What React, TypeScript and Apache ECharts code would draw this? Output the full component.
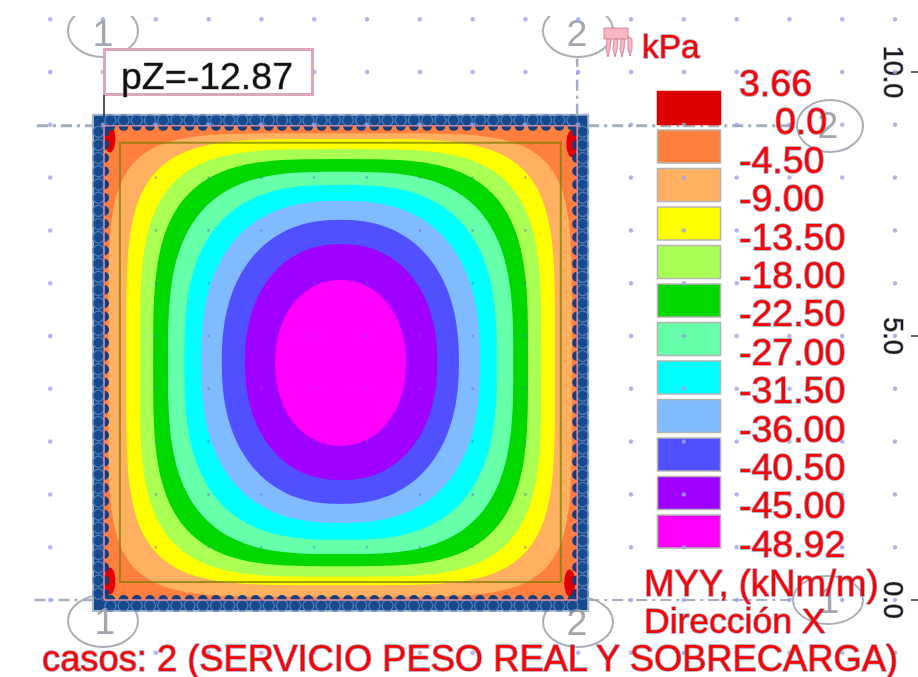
import React, { useEffect, useRef } from "react";
import * as echarts from "echarts";

const FONT = '"Liberation Sans", Arial, sans-serif';

// Contour bands, outermost first (metres on the model ruler)
const bandColors = ["#ffb060", "#ffff00", "#aaff55", "#00d800", "#66ffaa", "#00ffff", "#80bbff", "#5050ff", "#a000ff", "#ff00ff"];
const bandLeft = [0.1, 0.44, 0.7, 0.95, 1.23, 1.54, 1.86, 2.25, 2.69, 3.26];
const bandRight = [8.88, 8.56, 8.3, 8.05, 7.77, 7.46, 7.14, 6.74, 6.33, 5.74];
const bandTop = [8.84, 8.73, 8.54, 8.35, 8.11, 7.86, 7.56, 7.2, 6.74, 6.06];
const bandBottom = [0.06, 0.28, 0.44, 0.64, 0.87, 1.14, 1.46, 1.82, 2.27, 2.92];
const bandPower = [5.5, 4.5, 3.9, 3.5, 3.1, 2.8, 2.5, 2.3, 2.2, 2.1];

// Negative-moment patches at the four plate corners
const cornerX = [0.13, 8.88, 0.13, 8.84];
const cornerY = [8.73, 8.64, 0.36, 0.32];

// Plate and supports
const plateX = [0.02, 8.98];
const plateY = [0, 8.98];
const beamX = [-0.19, 9.19];
const beamY = [-0.21, 9.19];
const innerX = [0.32, 8.67];
const innerY = [0.34, 8.66];

// Structural axis lines: x1, y1, x2, y2, width
const axisLineRows = [
  [-1.25, 8.98, -0.19, 8.98, 3],
  [9.19, 8.98, 13.1, 8.98, 3],
  [-1.3, 0, -0.19, 0, 2.5],
  [9.19, 0, 13.1, 0, 2],
  [8.98, 9.19, 8.98, 10.25, 2.5],
];

// Ruler ticks on the right edge
const rulerTicks = [0, 5, 10];

// Drawing grid
const gridXs = [-1, 0, 1, 2, 3, 4, 5, 6, 7, 8, 9, 10, 11, 12, 13, 14, 15];
const gridYs = [-1, 0, 1, 2, 3, 4, 5, 6, 7, 8, 9, 10, 11];

// Legend
const legendLabels = ["3.66", "0.0", "-4.50", "-9.00", "-13.50", "-18.00", "-22.50", "-27.00", "-31.50", "-36.00", "-40.50", "-45.00", "-48.92"];
const legendColors = ["#df0000", "#ff7f3f", "#ffb060", "#ffff00", "#aaff55", "#00d800", "#66ffaa", "#00ffff", "#80bbff", "#5050ff", "#a000ff", "#ff00ff"];

const scallopSteps = Array.from({ length: 36 }, (_, i) => i);

echarts.graphic.registerShape(
  "loadIcon",
  echarts.graphic.extendPath(
    "M1 1H25V12H1ZM4 12L8 12L7 22L5 30L3 22ZM11 12L15 12L14 22L12 30L10 22ZM18 12L22 12L21 22L19 30L17 22ZM25 9L29 12L29 22L27 29L25 22Z",
    {}
  )
);

const redText = { fill: "#ff0000", stroke: "rgba(125,125,165,0.75)", lineWidth: 1.6, font: `37.5px ${FONT}`, verticalAlign: "middle" as const };

function txt(text: string, x: number, y: number, extra: any = {}, z = 10) {
  return { type: "text", x, y, z, style: { text, ...redText, ...extra } };
}
function ring(cx: number, cy: number, rx: number, ry: number) {
  return { type: "ellipse", z: 1, shape: { cx, cy, rx, ry }, style: { fill: "none", stroke: "#a9aeb8", lineWidth: 2 } };
}
const bubbleStyle = { fill: "#a2a6ae", stroke: "none", lineWidth: 0, align: "center" as const };

export default function App() {
  const ref = useRef<HTMLDivElement>(null);
  useEffect(() => {
    if (!ref.current) return;
    const chart = echarts.init(ref.current, undefined, { renderer: "svg" });

    const rectPolygon = (api: any, xs: number[], ys: number[]) => [
      api.coord([xs[0], ys[0]]),
      api.coord([xs[1], ys[0]]),
      api.coord([xs[1], ys[1]]),
      api.coord([xs[0], ys[1]]),
    ];

    const graphic: any[] = [
      ring(103, 31, 35, 26),
      ring(578, 31, 35, 26),
      ring(103, 621, 35, 26),
      ring(578, 622, 35, 25),
      ring(830, 126, 33, 26),
      ring(828, 600, 35, 24),
      { type: "rect", z: 2, shape: { x: 50, y: 0, width: 600, height: 16 }, style: { fill: "#fff" } },
      txt("1", 103, 33, bubbleStyle, 3),
      txt("2", 577, 33, bubbleStyle, 3),
      txt("1", 105, 621, bubbleStyle, 3),
      txt("2", 577, 622, bubbleStyle, 3),
      txt("2", 828, 125, bubbleStyle, 3),
      txt("1", 829, 600, bubbleStyle, 3),
      { type: "loadIcon", x: 603, y: 27, z: 9, style: { fill: "#f7b8c4", stroke: "#d88a9c", lineWidth: 1 } },
      { type: "rect", z: 9, shape: { x: 104.5, y: 49.5, width: 208, height: 45 }, style: { fill: "#fff", stroke: "#dca8b8", lineWidth: 3 } },
      { type: "line", z: 9, shape: { x1: 104, y1: 95, x2: 104, y2: 116 }, style: { stroke: "#222", lineWidth: 1.5 } },
      txt("pZ=-12.87", 121, 76, { fill: "#111", stroke: "rgba(110,110,130,0.6)", lineWidth: 1 }),
      txt("kPa", 642, 46, { font: `33.5px ${FONT}` }),
      txt("MYY, (kNm/m)", 644, 583, { font: `36.5px ${FONT}` }),
      txt("Dirección X", 644, 621, { font: `35.5px ${FONT}` }),
      txt("casos: 2 (SERVICIO PESO REAL Y SOBRECARGA)", 42, 658.5, { font: `36.3px ${FONT}` }),
    ];
    legendColors.forEach((c, i) => {
      graphic.push({
        type: "rect",
        z: 3,
        shape: { x: 657.5, y: 91.5 + i * 38.5, width: 63, height: 33 },
        style: { fill: c, stroke: i === 0 ? c : "#b4b4b4", lineWidth: 1.5 },
      });
    });
    legendLabels.forEach((l, i) => {
      graphic.push(txt(l, l === "0.0" ? 775 : 739, 83 + i * 38.4));
    });

    const dotsAll: number[][] = [];
    gridXs.forEach((x) => gridYs.forEach((y) => dotsAll.push([x, y])));
    const outside = dotsAll.filter(([x, y]) => x < 0 || x > 9 || y < 0 || y > 8.9);
    const inside = dotsAll.filter(([x, y]) => !(x < 0 || x > 9 || y < 0 || y > 8.9));

    chart.setOption({
      animation: false,
      backgroundColor: "#fff",
      grid: { left: 103, top: 72, width: 810, height: 528 },
      xAxis: { type: "value", min: 0, max: 810 / 52.8, show: false },
      yAxis: {
        type: "value",
        position: "right",
        min: 0,
        max: 10,
        interval: 5,
        axisLine: { show: false },
        splitLine: { show: false },
        axisTick: { show: false },
        axisLabel: {
          inside: true,
          rotate: -90,
          margin: 7,
          fontFamily: FONT,
          fontSize: 27,
          color: "#1c1c1c",
          textBorderColor: "rgba(110,120,150,0.7)",
          textBorderWidth: 1.2,
          formatter: (v: number) => v.toFixed(1),
        },
      },
      graphic,
      series: [
        {
          type: "custom", silent: true, z: 1,
          data: axisLineRows,
          renderItem: (_: any, api: any) => {
            const a = api.coord([api.value(0), api.value(1)]);
            const b = api.coord([api.value(2), api.value(3)]);
            return {
              type: "line",
              shape: { x1: a[0], y1: a[1], x2: b[0], y2: b[1] },
              style: { stroke: "#a4aebf", lineWidth: api.value(4), lineDash: [11, 5, 3, 5] },
            };
          },
        },
        {
          type: "custom", silent: true, z: 2,
          data: rulerTicks.map((t) => [t]),
          renderItem: (_: any, api: any) => {
            const p = api.coord([0, api.value(0)]);
            return {
              type: "line",
              shape: { x1: 911, y1: p[1], x2: 918, y2: p[1] },
              style: { stroke: "#333", lineWidth: 1.5 },
            };
          },
        },
        {
          type: "custom", silent: true, z: 2, data: [[0]],
          renderItem: (_: any, api: any) => ({
            type: "group",
            children: [
              { type: "polygon", shape: { points: rectPolygon(api, beamX, beamY) }, style: { fill: "#174a8c", stroke: "#a8b6ca", lineWidth: 2 } },
              { type: "polygon", shape: { points: rectPolygon(api, plateX, plateY) }, style: { fill: "#ff7f3f" } },
            ],
          }),
        },
        {
          type: "custom", silent: true, z: 3,
          data: bandColors.map((_, i) => [i, bandLeft[i], bandRight[i], bandTop[i], bandBottom[i], bandPower[i]]),
          renderItem: (params: any, api: any) => {
            const L = api.value(1), R = api.value(2), T = api.value(3), B = api.value(4), n = api.value(5);
            const cx = (L + R) / 2, cy = (T + B) / 2, a = (R - L) / 2, b = (T - B) / 2;
            const pts: number[][] = [];
            for (let k = 0; k < 240; k++) {
              const t = (k / 240) * Math.PI * 2;
              const c = Math.cos(t), s = Math.sin(t);
              pts.push(api.coord([
                cx + a * Math.sign(c) * Math.pow(Math.abs(c), 2 / n),
                cy + b * Math.sign(s) * Math.pow(Math.abs(s), 2 / n),
              ]));
            }
            return { type: "polygon", shape: { points: pts }, style: { fill: bandColors[params.dataIndex] } };
          },
        },
        {
          type: "custom", silent: true, z: 4,
          data: cornerX.map((x, i) => [x, cornerY[i]]),
          renderItem: (_: any, api: any) => {
            const p = api.coord([api.value(0), api.value(1)]);
            return { type: "ellipse", shape: { cx: p[0], cy: p[1], rx: 5.5, ry: 13.5 }, style: { fill: "#df0000" } };
          },
        },
        {
          type: "custom", silent: true, z: 4, data: [[0]],
          renderItem: (_: any, api: any) => ({
            type: "polygon",
            shape: { points: rectPolygon(api, innerX, innerY) },
            style: { fill: "none", stroke: "rgba(120,125,0,0.72)", lineWidth: 2 },
          }),
        },
        {
          type: "custom", silent: true, z: 5,
          data: scallopSteps.map((s) => [s]),
          renderItem: (_: any, api: any) => {
            const d = api.value(0) * 0.25 + 0.12;
            const top = api.coord([plateX[0] + d, plateY[1]]);
            const bot = api.coord([plateX[0] + d, plateY[0]]);
            const lef = api.coord([plateX[0], plateY[0] + d]);
            const rig = api.coord([plateX[1], plateY[0] + d]);
            const piece = (x: number, y: number, ox: number, oy: number, start: number) => [
              { type: "circle", shape: { cx: x + ox, cy: y + oy, r: 5.5 }, style: { fill: "none", stroke: "#4f7fba", lineWidth: 1.2 } },
              { type: "sector", shape: { cx: x, cy: y, r0: 0, r: 5, startAngle: start, endAngle: start + Math.PI, clockwise: true }, style: { fill: "#123f80" } },
            ];
            return {
              type: "group",
              children: [
                ...piece(top[0], top[1], 0, -5.5, 0),
                ...piece(bot[0], bot[1], 0, 5.5, Math.PI),
                ...piece(lef[0], lef[1], -5.5, 0, -Math.PI / 2),
                ...piece(rig[0], rig[1], 5.5, 0, Math.PI / 2),
              ],
            };
          },
        },
        {
          type: "custom", silent: true, z: 5, data: [[0]],
          renderItem: (_: any, api: any) => ({
            type: "polygon",
            shape: { points: rectPolygon(api, plateX, plateY) },
            style: { fill: "none", stroke: "#ec8a9c", lineWidth: 1.4 },
          }),
        },
        {
          type: "scatter", silent: true, clip: false, z: 6, symbolSize: 4.5,
          itemStyle: { color: "#9aa4e6" }, data: outside,
        },
        {
          type: "scatter", silent: true, clip: false, z: 6, symbolSize: 3,
          itemStyle: { color: "#5a64d8", opacity: 0.4 }, data: inside,
        },
      ],
    });
    return () => chart.dispose();
  }, []);
  return (
    <div
      ref={ref}
      style={{ position: "fixed", left: 0, top: 0, width: 918, height: 677, filter: "blur(0.6px)" }}
    />
  );
}
